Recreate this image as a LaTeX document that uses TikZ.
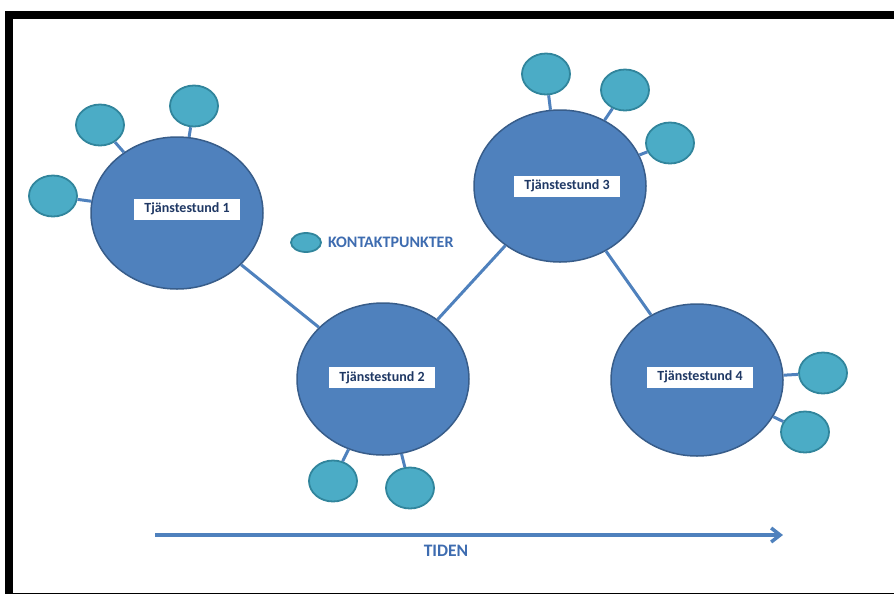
\documentclass[tikz,border=0pt]{standalone}
\usepackage{fontspec}
\setmainfont{Carlito}
\usetikzlibrary{shapes.geometric,arrows.meta,positioning}

\definecolor{stundblue}{RGB}{79,129,189}
\definecolor{stundedge}{RGB}{56,93,138}
\definecolor{kontakt}{RGB}{75,172,198}
\definecolor{kontaktedge}{RGB}{49,133,156}
\definecolor{labelnavy}{RGB}{31,56,100}
\definecolor{rubrikblue}{RGB}{62,108,176}

\tikzset{
  stund/.style={ellipse, draw=stundedge, fill=stundblue, line width=1.5pt,
    minimum width=172pt, minimum height=152pt, inner sep=0pt},
  punkt/.style={ellipse, draw=kontaktedge, fill=kontakt, line width=1.8pt,
    minimum width=48pt, minimum height=41pt, inner sep=0pt},
  etikett/.style={fill=white, text=labelnavy, font=\bfseries\fontsize{14}{16}\selectfont,
    minimum width=106pt, minimum height=21pt, inner sep=0pt},
  lank/.style={draw=stundblue, line width=3pt},
  rubrik/.style={text=rubrikblue, inner sep=0pt, font=\bfseries\fontsize{16}{19}\selectfont}
}

\begin{document}
\begin{tikzpicture}[x=1pt, y=-1pt]
		%%%%% START %%%%%
		\useasboundingbox (0,0) rectangle (894,595);
		
		% ram
		\fill[black] (5,11) rectangle (894,19);
		\fill[black] (5,11) rectangle (13,594);
		\fill[black] (5,592.5) rectangle (894,594);
		
		% tjanstestunder
		\node[stund] (stund1) at (177,213) {};
		\node[stund] (stund2) at (383,379) {};
		\node[stund] (stund3) at (560,186) {};
		\node[stund] (stund4) at (697,380) {};
		
		\draw[lank] (stund1) -- (stund2);
		\draw[lank] (stund2) -- (stund3);
		\draw[lank] (stund3) -- (stund4);
		
		\node[etikett] (etikett1) at (187,209) {Tjänstestund 1};
		\node[etikett] (etikett2) at (382,377.5) {Tjänstestund 2};
		\node[etikett] (etikett3) at (567,186) {Tjänstestund 3};
		\node[etikett] (etikett4) at (700,377) {Tjänstestund 4};
		
		% kontaktpunkter
		\node[punkt] (punkt1a) at (100,125) {};
		\node[punkt] (punkt1b) at (194,106) {};
		\node[punkt] (punkt1c) at (53,196) {};
		\node[punkt] (punkt2a) at (333,481) {};
		\node[punkt] (punkt2b) at (410,488) {};
		\node[punkt] (punkt3a) at (546,74) {};
		\node[punkt] (punkt3b) at (625,90) {};
		\node[punkt] (punkt3c) at (670,143) {};
		\node[punkt] (punkt4a) at (823,373) {};
		\node[punkt] (punkt4b) at (805,432) {};
		
		\draw[lank] (punkt1a) -- (stund1);
		\draw[lank] (punkt1b) -- (stund1);
		\draw[lank] (punkt1c) -- (stund1);
		\draw[lank] (punkt2a) -- (stund2);
		\draw[lank] (punkt2b) -- (stund2);
		\draw[lank] (punkt3a) -- (stund3);
		\draw[lank] (punkt3b) -- (stund3);
		\draw[lank] (punkt3c) -- (stund3);
		\draw[lank] (punkt4a) -- (stund4);
		\draw[lank] (punkt4b) -- (stund4);
		
		% forklaring
		\node[punkt, minimum width=30pt, minimum height=19pt] (legpunkt) at (306,242.5) {};
		\node[rubrik, right=6pt of legpunkt] (legtext) {KONTAKTPUNKTER};
		
		% tidsaxel
		\coordinate (tidstart) at (155,535);
		\coordinate (tidslut) at (783,535);
		\draw[lank, line width=3.5pt, -{Straight Barb[length=9pt,width=14pt]}] (tidstart) -- (tidslut);
		\node[rubrik, font=\bfseries\fontsize{17.5}{20}\selectfont] (tiden) at (446,551) {TIDEN};
		
		%%%%% END %%%%%
\end{tikzpicture}
\end{document}
